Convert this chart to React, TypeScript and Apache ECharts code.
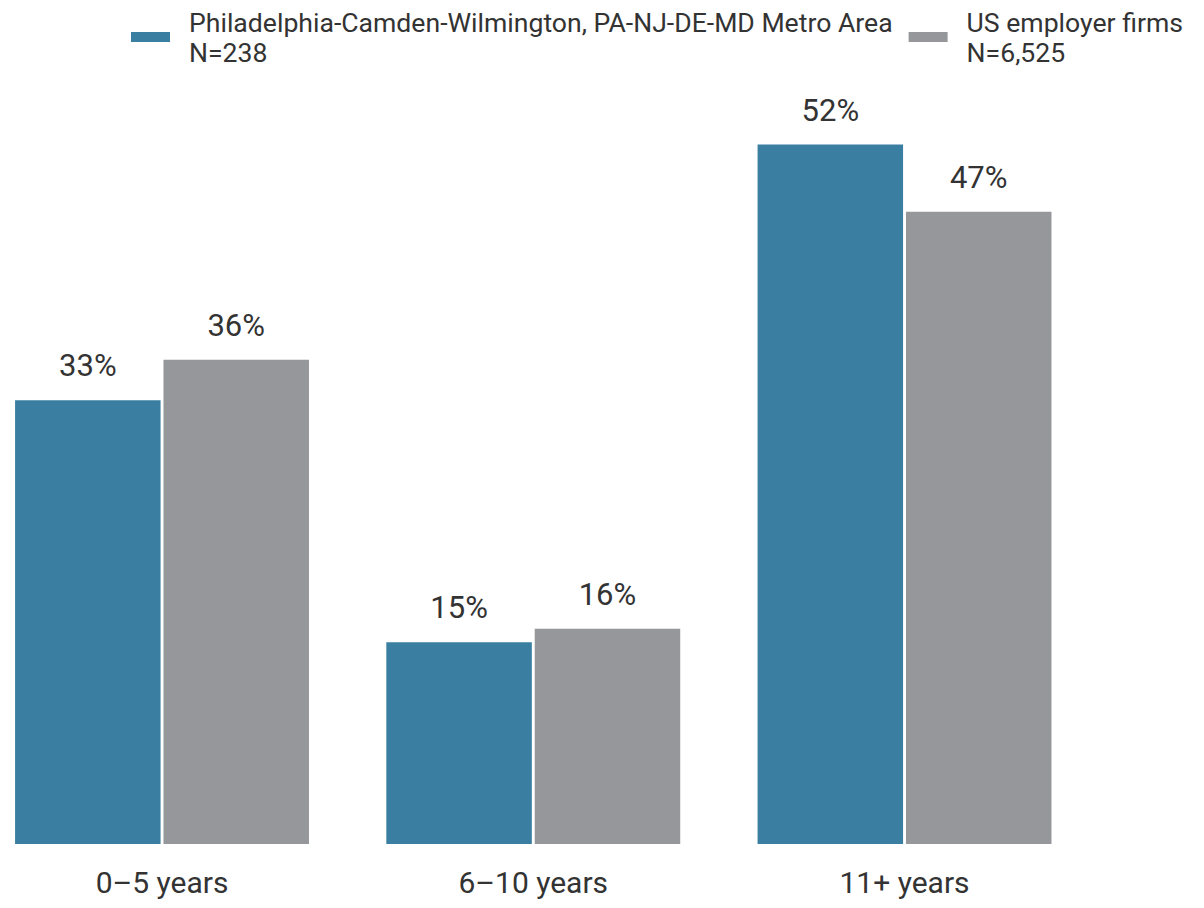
import React, { useEffect, useRef } from "react";
import * as echarts from "echarts";

const categories = ["0–5 years", "6–10 years", "11+ years"];
const seriesNames = [
  "Philadelphia-Camden-Wilmington, PA-NJ-DE-MD Metro Area\nN=238",
  "US employer firms\nN=6,525",
];
const metroValues = [33, 15, 52];
const usValues = [36, 16, 47];
const colors = ["#3A7EA1", "#96979B"];

export default function App() {
  const ref = useRef<HTMLDivElement>(null);
  useEffect(() => {
    if (!ref.current) return;
    const chart = echarts.init(ref.current, null, { renderer: "svg" });
    const labelStyle = {
      show: true,
      position: "top" as const,
      distance: 19,
      fontFamily: "Roboto",
      fontSize: 31,
      color: "#333",
      formatter: "{c}%",
    };
    chart.setOption({
      animation: false,
      color: colors,
      legend: {
        top: 2,
        left: 126,
        itemWidth: 39,
        itemHeight: 10,
        itemGap: 16,
        icon: "rect",
        textStyle: {
          fontFamily: "Roboto",
          fontSize: 26.6,
          lineHeight: 30,
          color: "#333",
          padding: [0, 0, 0, 14],
        },
        data: seriesNames,
      },
      grid: {
        left: -23.6,
        width: 1113.75,
        top: 37,
        height: 807,
        outerBoundsMode: "none",
        containLabel: false,
      },
      xAxis: {
        type: "category",
        data: categories,
        axisLine: { show: false },
        axisTick: { show: false },
        axisLabel: {
          margin: 23,
          fontFamily: "Roboto",
          fontSize: 30,
          color: "#333",
        },
      },
      yAxis: {
        type: "value",
        min: 0,
        max: 60,
        show: false,
        splitLine: { show: false },
      },
      series: [
        {
          name: seriesNames[0],
          type: "bar",
          data: metroValues,
          barWidth: 145.5,
          barGap: "2%",
          label: labelStyle,
        },
        {
          name: seriesNames[1],
          type: "bar",
          data: usValues,
          barWidth: 145.5,
          barGap: "2%",
          label: labelStyle,
        },
      ],
    });
    return () => chart.dispose();
  }, []);
  return (
    <div
      ref={ref}
      style={{ position: "absolute", left: 0, top: 0, width: 1204, height: 908, background: "#fff" }}
    />
  );
}
